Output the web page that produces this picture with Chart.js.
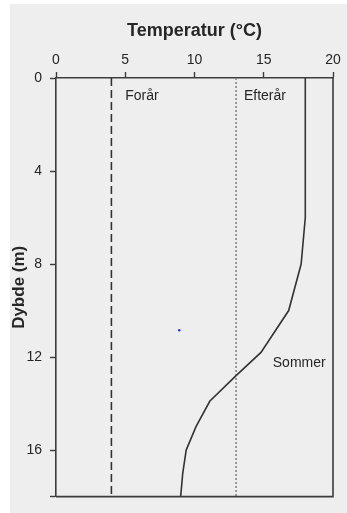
<!DOCTYPE html>
<html>
<head>
<meta charset="utf-8">
<script src="https://cdn.jsdelivr.net/npm/chart.js@4/dist/chart.umd.min.js"></script>
<style>
  html, body { margin: 0; padding: 0; background: #ffffff; }
  #wrap { width: 347px; height: 513px; position: relative; }
</style>
</head>
<body>
<div id="wrap"><canvas id="c" width="347" height="513"></canvas></div>
<script>
// Temperature profiles (°C) against depth (m)
const depthSommer = [0, 2, 4, 6, 8, 10, 11.8, 12.8, 13.9, 15, 16, 17, 18];
const tempSommer  = [18, 18, 18, 18, 17.7, 16.8, 14.8, 13.0, 11.1, 10.1, 9.4, 9.15, 9.0];

const depthForaar = [0, 18];
const tempForaar  = [4, 4];

const depthEfteraar = [0, 18];
const tempEfteraar  = [13, 13];

// stray blue point inside the plot
const strayTemp  = [8.9];
const strayDepth = [10.85];

// season labels placed in data coordinates
const labelTexts  = ['Forår', 'Efterår', 'Sommer'];
const labelTemps  = [5.0, 13.57, 15.65];
const labelDepths = [0.8, 0.8, 12.27];

const xTicks = [0, 5, 10, 15, 20];
const yTicks = [0, 4, 8, 12, 16, 18];
const yTickLabels = ['0', '4', '8', '12', '16', ''];

const toPoints = (xs, ys) => xs.map((x, i) => ({ x: x, y: ys[i] }));

const FONT = '"Liberation Sans", Arial, Helvetica, sans-serif';
const INK = '#262626';
const AXIS = '#3c3c3c';

const backdrop = {
  id: 'backdrop',
  beforeDraw(chart) {
    const ctx = chart.ctx;
    ctx.save();
    ctx.fillStyle = '#eeeeee';
    ctx.fillRect(10, 4, chart.width - 10, chart.height - 4);
    ctx.restore();
  }
};

const frame = {
  id: 'frame',
  afterDatasetsDraw(chart) {
    const { ctx, chartArea: a } = chart;
    ctx.save();
    ctx.strokeStyle = AXIS;
    ctx.lineWidth = 1.6;
    ctx.beginPath();
    ctx.moveTo(a.left, a.bottom);
    ctx.lineTo(a.right, a.bottom);
    ctx.lineTo(a.right, a.top);
    ctx.stroke();
    ctx.restore();
  }
};

const seasonLabels = {
  id: 'seasonLabels',
  afterDatasetsDraw(chart) {
    const { ctx, scales } = chart;
    ctx.save();
    ctx.fillStyle = INK;
    ctx.font = '14px ' + FONT;
    ctx.textAlign = 'left';
    ctx.textBaseline = 'middle';
    labelTexts.forEach((t, i) => {
      ctx.fillText(t, scales.x.getPixelForValue(labelTemps[i]), scales.y.getPixelForValue(labelDepths[i]));
    });
    ctx.restore();
  }
};

new Chart(document.getElementById('c'), {
  type: 'scatter',
  data: {
    datasets: [
      {
        label: 'Sommer',
        data: toPoints(tempSommer, depthSommer),
        showLine: true,
        borderColor: '#333333',
        borderWidth: 1.6,
        pointRadius: 0,
        tension: 0
      },
      {
        label: 'Forår',
        data: toPoints(tempForaar, depthForaar),
        showLine: true,
        borderColor: '#333333',
        borderWidth: 1.6,
        borderDash: [8, 4],
        pointRadius: 0
      },
      {
        label: 'Efterår',
        data: toPoints(tempEfteraar, depthEfteraar),
        showLine: true,
        borderColor: '#808080',
        borderWidth: 1.5,
        borderDash: [2, 2],
        pointRadius: 0
      },
      {
        label: 'punkt',
        data: toPoints(strayTemp, strayDepth),
        showLine: false,
        pointRadius: 1.2,
        pointBorderWidth: 0,
        backgroundColor: '#2030ff',
        borderColor: '#2030ff'
      }
    ]
  },
  options: {
    responsive: false,
    animation: false,
    events: [],
    layout: { padding: { left: 0, right: 14, top: 0, bottom: 12 } },
    plugins: {
      legend: { display: false },
      tooltip: { enabled: false }
    },
    scales: {
      x: {
        type: 'linear',
        position: 'top',
        min: 0,
        max: 20,
        afterBuildTicks(scale) { scale.ticks = xTicks.map(v => ({ value: v })); },
        afterFit(scale) { scale.height = 78; },
        ticks: {
          color: INK,
          font: { family: FONT, size: 14 },
          padding: 3,
          maxRotation: 0
        },
        grid: {
          drawOnChartArea: false,
          drawTicks: true,
          tickLength: 6,
          tickColor: AXIS,
          tickWidth: 1.4
        },
        border: { display: true, color: AXIS, width: 1.6 },
        title: {
          display: true,
          text: 'Temperatur (°C)',
          color: INK,
          font: { family: FONT, size: 18, weight: 'bold' },
          padding: { top: 20, bottom: 0 }
        }
      },
      y: {
        type: 'linear',
        position: 'left',
        reverse: true,
        min: 0,
        max: 18,
        afterBuildTicks(scale) { scale.ticks = yTicks.map(v => ({ value: v })); },
        afterFit(scale) { scale.width = 56; },
        ticks: {
          color: INK,
          font: { family: FONT, size: 14 },
          padding: 8,
          callback(value) {
            const i = yTicks.indexOf(value);
            return i >= 0 ? yTickLabels[i] : '';
          }
        },
        grid: {
          drawOnChartArea: false,
          drawTicks: true,
          tickLength: 6,
          tickColor: AXIS,
          tickWidth: 1.4
        },
        border: { display: true, color: AXIS, width: 1.6 },
        title: {
          display: true,
          text: 'Dybde (m)',
          color: INK,
          font: { family: FONT, size: 17, weight: 'bold' },
          padding: { top: 9, bottom: 0 }
        }
      }
    }
  },
  plugins: [backdrop, frame, seasonLabels]
});
</script>
</body>
</html>
